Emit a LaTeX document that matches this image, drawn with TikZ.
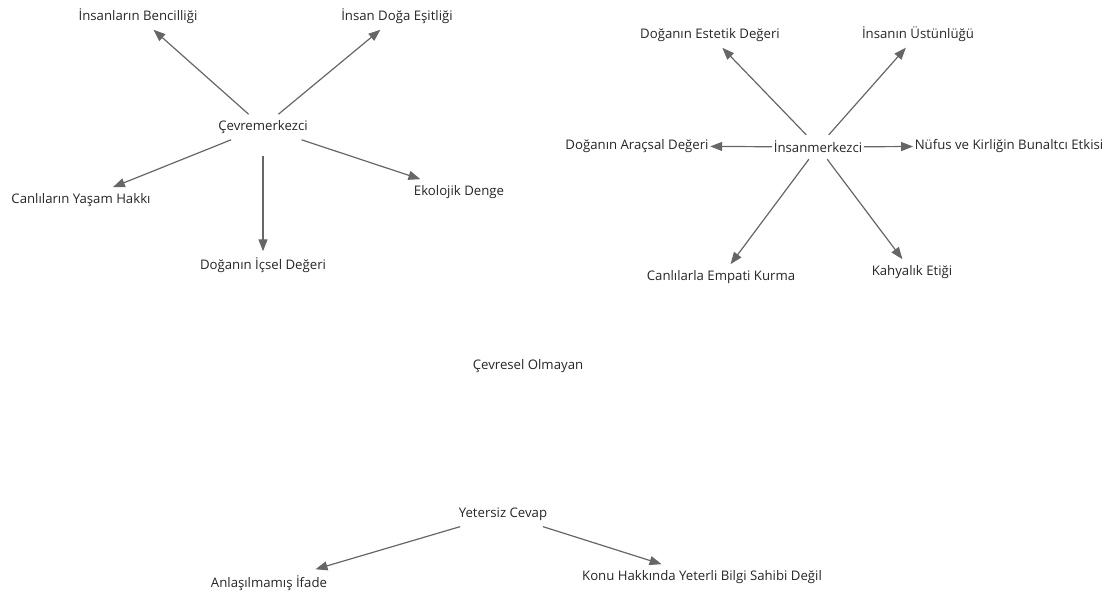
\documentclass[tikz,border=0pt]{standalone}
\usepackage{fontspec}
\setmainfont{Open Sans}
\usetikzlibrary{arrows.meta}
\begin{document}
\begin{tikzpicture}[x=1pt,y=-1pt]
  \useasboundingbox (0,0) rectangle (1114,599);
  \begin{scope}[every node/.style={font=\fontsize{13.2}{15}\selectfont,text=black!85,inner xsep=1.5pt,inner ysep=6pt}]
    % left cluster
    \node (cevre) at (263,127) {Çevremerkezci};
    \node (bencil) at (138,16) {İnsanların Bencilliği};
    \node (esit) at (397,16) {İnsan Doğa Eşitliği};
    \node (yasam) at (81,200) {Canlıların Yaşam Hakkı};
    \node (denge) at (459,192) {Ekolojik Denge};
    \node (icsel) at (263,265) {Doğanın İçsel Değeri};
    % right cluster
    \node (insan) at (818,147) {İnsanmerkezci};
    \node (estetik) at (710,35) {Doğanın Estetik Değeri};
    \node (ustun) at (918,34) {İnsanın Üstünlüğü};
    \node (aracsal) at (637,146) {Doğanın Araçsal Değeri};
    \node (nufus) at (1009,146) {Nüfus ve Kirliğin Bunaltcı Etkisi};
    \node (empati) at (721,277) {Canlılarla Empati Kurma};
    \node (kahya) at (912,272) {Kahyalık Etiği};
    % bottom
    \node (olmayan) at (528,366) {Çevresel Olmayan};
    \node (yetersiz) at (503,514) {Yetersiz Cevap};
    \node (anlasil) at (269,583) {Anlaşılmamış İfade};
    \node (konu) at (702,577) {Konu Hakkında Yeterli Bilgi Sahibi Değil};
  \end{scope}
  \begin{scope}[every edge/.style={draw=black!60,line width=1.2pt,-{Triangle[length=12pt,width=9pt]}}]
    \path (cevre) edge (bencil);
    \path (cevre) edge (esit);
    \path (cevre) edge (yasam);
    \path (cevre) edge (denge);
    \path (cevre) edge[shorten <=16pt] (icsel);
    \path (insan) edge (estetik);
    \path (insan) edge (ustun);
    \path (insan) edge (aracsal);
    \path (insan) edge (nufus);
    \path (insan) edge (empati);
    \path (insan) edge (kahya);
    \path (yetersiz) edge (anlasil);
    \path (yetersiz) edge (konu);
  \end{scope}
\end{tikzpicture}
\end{document}
